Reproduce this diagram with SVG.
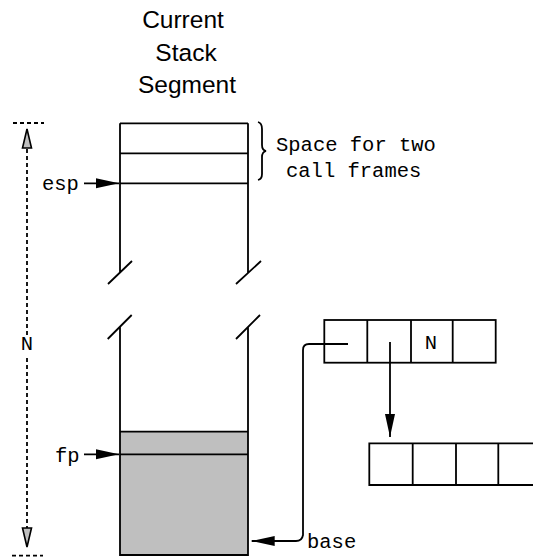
<svg xmlns="http://www.w3.org/2000/svg" width="533" height="559" viewBox="0 0 533 559">
<style>
.ln{stroke:#000;stroke-width:1.8;fill:none}
.dash{stroke:#000;stroke-width:1.8;fill:none;stroke-dasharray:4,3}
.title{font-family:"Liberation Sans",Arial,sans-serif;font-size:24.5px;text-anchor:middle;fill:#000}
.mono{font-family:"Liberation Mono","Courier New",monospace;font-size:20.5px;fill:#000}
.cell{fill:#fff;stroke:#000;stroke-width:1.8}
</style>
<defs>
<marker id="ah" markerWidth="24" markerHeight="12" refX="23" refY="6" orient="auto" markerUnits="userSpaceOnUse">
<path d="M0,1 L23,6 L0,11 Z" fill="#000"/>
</marker>
<marker id="gh" markerWidth="22" markerHeight="12" refX="20" refY="6" orient="auto" markerUnits="userSpaceOnUse">
<path d="M1,1.5 L20,6 L1,10.5 Z" fill="#bfbfbf" stroke="#000" stroke-width="1.6"/>
</marker>
</defs>
<g id="title">
<text class="title" x="183" y="28">Current</text>
<text class="title" x="186" y="61">Stack</text>
<text class="title" x="187" y="93">Segment</text>
</g>
<g id="stack">
<rect x="120" y="431.7" width="128" height="123.3" fill="#bfbfbf" stroke="none"/>
<path class="ln" d="M120,123.3 H248 M120,153.3 H248 M120,183.3 H248 M120,123.3 V272.5 M248,123.3 V272.5 M108,284 L132,261 M236,284 L261,261 M107.7,339 L131.7,315 M236,339 L260,315 M120,327 V555 H248 V327 M120,431.7 H248 M120,454.3 H248"/>
</g>
<g id="brace">
<path class="ln" d="M258,122 Q262,123 262,129 V145 Q262,150 266,151 Q262,152 262,157 V174 Q262,179 258,180"/>
<text class="mono" x="276" y="151">Space for two</text>
<text class="mono" x="286" y="177">call frames</text>
</g>
<g id="labels">
<text class="mono" x="42" y="190">esp</text>
<text class="mono" x="55" y="462">fp</text>
<text class="mono" x="307" y="548">base</text>
<text class="mono" x="27" y="350" text-anchor="middle">N</text>
</g>
<g id="measure">
<path class="dash" d="M13,123 H44 M12,555.7 H43"/>
<path class="dash" d="M27,335 V129" marker-end="url(#gh)"/>
<path class="dash" d="M27,358 V547" marker-end="url(#gh)"/>
</g>
<g id="row1">
<rect class="cell" x="324.3" y="320" width="171.4" height="42.7"/>
<path class="ln" d="M367.3,320 V362.7 M411,320 V362.7 M452.7,320 V362.7"/>
<text class="mono" x="431" y="349" text-anchor="middle">N</text>
</g>
<g id="row2">
<path class="ln" d="M540,443.3 H369.3 V485 H540 M412.7,443.3 V485 M456,443.3 V485 M498.3,443.3 V485"/>
</g>
<g id="connectors">
<path class="ln" d="M84,183.3 H119" marker-end="url(#ah)"/>
<path class="ln" d="M84,454.3 H119" marker-end="url(#ah)"/>
<path class="ln" d="M390,342 V437" marker-end="url(#ah)"/>
<path class="ln" d="M348,344 H309 Q303,344 303,350 V535 Q302,541 296,541 H251.7" marker-end="url(#ah)"/>
</g>
</svg>
